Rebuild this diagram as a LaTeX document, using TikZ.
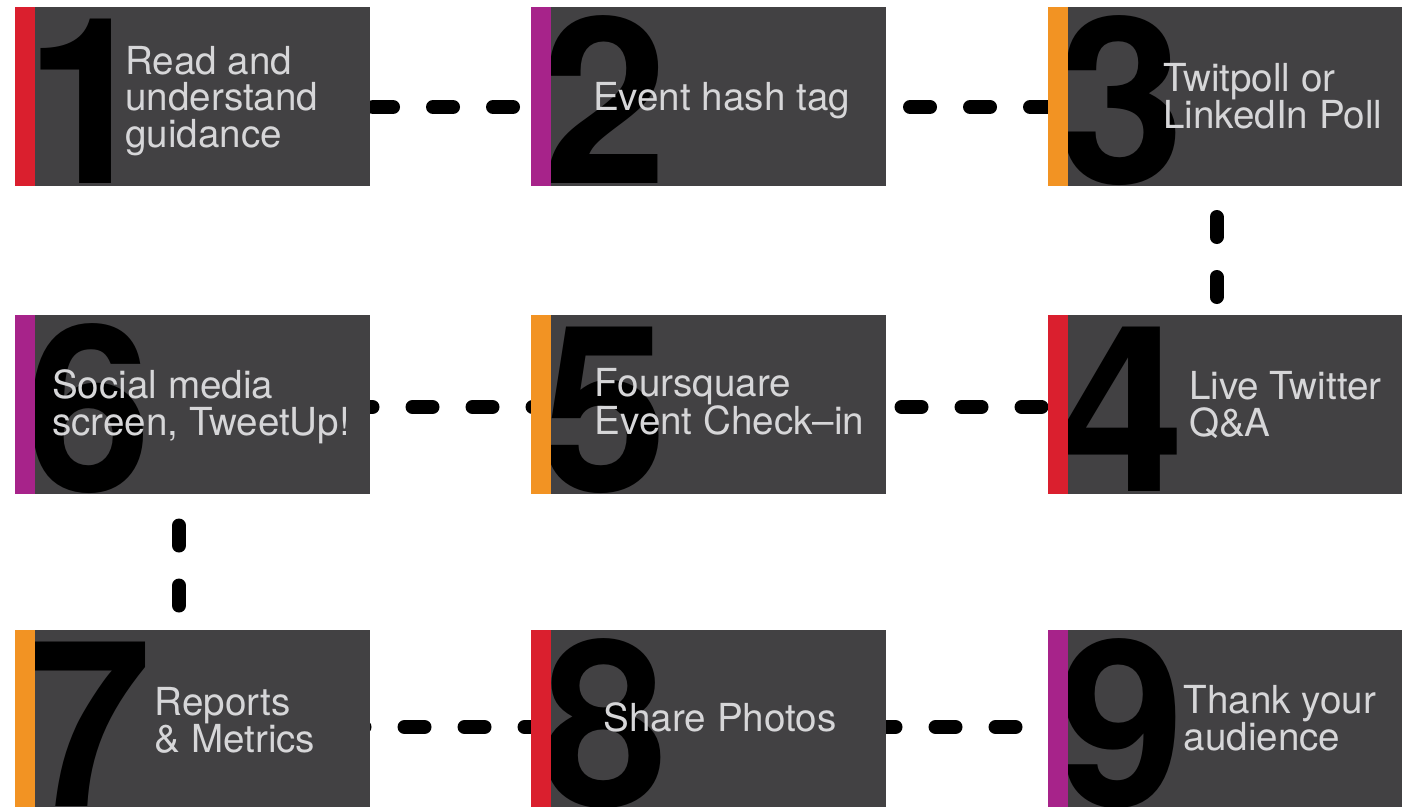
\documentclass[tikz,border=0pt]{standalone}
\usepackage{fontspec}
\setmainfont{TeX Gyre Heros}
\usetikzlibrary{backgrounds}

\definecolor{cardgray}{HTML}{424143}
\definecolor{labelgray}{HTML}{D6D6D8}
\definecolor{stepred}{HTML}{DA1F2E}
\definecolor{steppurple}{HTML}{A7238A}
\definecolor{steporange}{HTML}{F29323}

\tikzset{
  stepcard/.style={fill=cardgray, draw=none, minimum width=355pt, minimum height=179pt, inner sep=0pt, outer sep=0pt},
  bignum/.style={anchor=base west, inner sep=0pt, text=black, xscale=0.98, font=\fontsize{232}{232}\selectfont\bfseries},
  cardlabel/.style={anchor=west, align=left, inner sep=0pt, text=labelgray, font=\fontsize{38.6}{36.6}\selectfont},
  link/.style={draw=black, line width=14pt, line cap=round, dash pattern=on 20pt off 40pt},
}

\begin{document}
\begin{tikzpicture}[x=1pt, y=-1pt]
  \useasboundingbox (0,0) rectangle (1402,806);

  % cards, big numbers and colour bars
  \foreach \n/\x/\y/\c in {1/192.5/96.5/stepred, 2/708.5/96.5/steppurple, 3/1225.5/96.5/steporange,
                           4/1225.5/404.5/stepred, 5/708.5/404.5/steporange, 6/192.5/404.5/steppurple,
                           7/192.5/719.5/steporange, 8/708.5/719.5/stepred, 9/1225.5/719.5/steppurple} {
    \node[stepcard] (b\n) at (\x,\y) {};
    \begin{scope}
      \clip (b\n.north west) rectangle (b\n.south east);
      \node[bignum] (n\n) at ([xshift=10pt, yshift=2.5pt]b\n.south west) {\n};
    \end{scope}
    \fill[\c] (b\n.north west) rectangle ([xshift=20pt]b\n.south west);
  }

  % labels
  \node[cardlabel] (t1) at (125,100.9) {Read and\\understand\\guidance};
  \node[cardlabel] (t2) at (593,100.4) {Event hash tag};
  \node[cardlabel] (t3) at (1163,96.4) {Twitpoll or\\LinkedIn Poll};
  \node[cardlabel] (t4) at (1189,405.2) {Live Twitter\\Q\&A};
  \node[cardlabel] (t5) at (594.5,402.1) {Foursquare\\Event Check--in};
  \node[cardlabel] (t6) at (52,406.8) {Social media\\screen, TweetUp!};
  \node[cardlabel] (t7) at (154.5,720.5) {Reports\\\& Metrics};
  \node[cardlabel] (t8) at (603.5,717.7) {Share Photos};
  \node[cardlabel] (t9) at (1183.5,718.5) {Thank your\\audience};

  % dashed connectors, centre to centre, behind the cards
  \begin{pgfonlayer}{background}
    \draw[link, dash phase=59.5pt] ([yshift=-10.5pt]b1.center) -- ([yshift=-10.5pt]b2.center);
    \draw[link, dash phase=38.5pt] ([yshift=-10.5pt]b2.center) -- ([yshift=-10.5pt]b3.center);
    \draw[link, dash phase=59.5pt] ([xshift=-9pt]b3.center) -- ([xshift=-9pt]b4.center);
    \draw[link, dash phase=47pt] ([yshift=-2.5pt]b5.center) -- ([yshift=-2.5pt]b4.center);
    \draw[link, dash phase=20pt] ([yshift=-2.5pt]b6.center) -- ([yshift=-2.5pt]b5.center);
    \draw[link, dash phase=59pt] ([xshift=-13.5pt]b6.center) -- ([xshift=-13.5pt]b7.center);
    \draw[link, dash phase=28pt] ([yshift=-7.5pt]b7.center) -- ([yshift=-7.5pt]b8.center);
    \draw[link, dash phase=13pt] ([yshift=-7.5pt]b8.center) -- ([yshift=-7.5pt]b9.center);
  \end{pgfonlayer}
\end{tikzpicture}
\end{document}
